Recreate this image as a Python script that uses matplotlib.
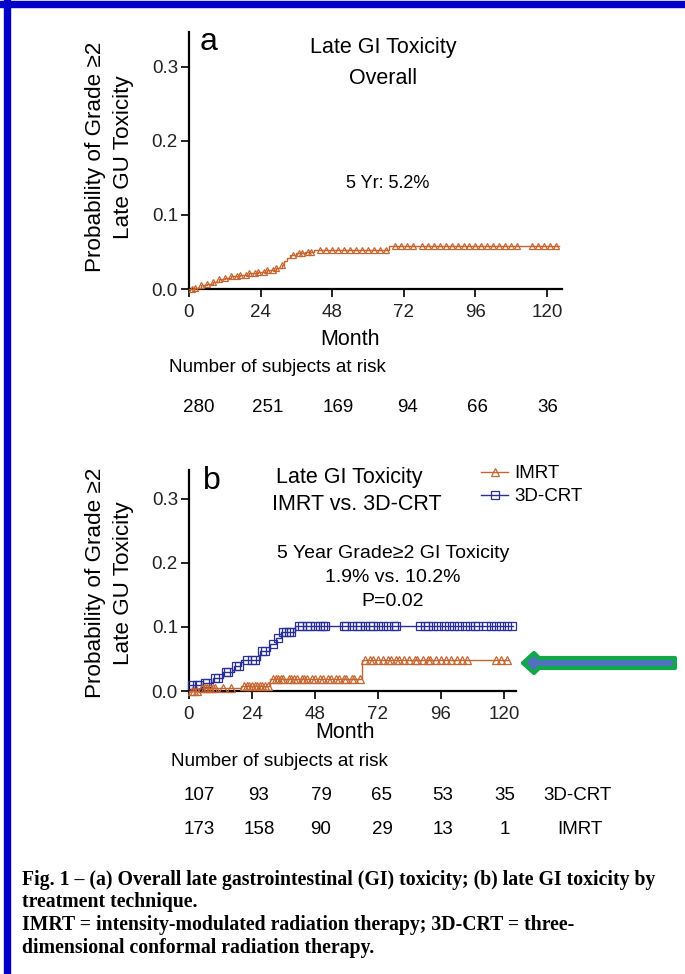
import numpy as np
import matplotlib
matplotlib.use("Agg")
import matplotlib.pyplot as plt
import matplotlib.transforms as mtransforms
from matplotlib.patches import Rectangle, Polygon
from matplotlib.lines import Line2D

plt.rcParams['font.family'] = ['Liberation Sans', 'DejaVu Sans']

W, H = 685, 974

# ---- panel a : overall late GI toxicity ----
a_event_t = [0, 2, 4, 6, 8, 10, 12, 14, 17, 20, 23, 26, 29, 31, 32, 33, 34, 36, 39, 42, 67]
a_event_p = [0.0, 0.002, 0.005, 0.007, 0.010, 0.013, 0.015, 0.017, 0.019, 0.021, 0.023,
             0.025, 0.028, 0.033, 0.038, 0.042, 0.046, 0.048, 0.050, 0.052, 0.058]
a_censor = [1, 2, 4, 6, 8, 10, 12, 14, 16, 17, 19, 20, 22, 23, 25, 26, 28, 29, 31, 35, 37,
            38, 40, 41, 44, 46, 48, 50, 52, 54, 56, 58, 60, 62, 64, 66, 69, 71, 73, 75, 78,
            80, 82, 84, 86, 88, 90, 92, 94, 96, 98, 100, 102, 104, 106, 108, 110, 115, 117,
            119, 121, 123]
a_end = 124
a_at_risk = [280, 251, 169, 94, 66, 36]

# ---- panel b : IMRT vs 3D-CRT ----
crt_event_t = [0, 5.5, 9.3, 13, 17, 20, 27, 31, 33, 35, 40.5]
crt_event_p = [0.009, 0.012, 0.020, 0.030, 0.039, 0.048, 0.062, 0.073, 0.083, 0.092, 0.102]
crt_censor = [1, 3, 4, 6, 7, 10, 11, 14, 15, 18, 19, 22, 24, 25, 28, 29, 32, 34, 36, 37, 38,
              39, 42, 43, 45, 46, 48, 50, 51, 52, 59, 60, 62, 64, 65, 67, 69, 70, 72, 74, 76,
              78, 79, 88, 90, 91, 93, 95, 97, 99, 101, 103, 105, 107, 109, 110, 113, 115, 117,
              119, 121, 123]
crt_end = 123.5

imrt_event_t = [0, 4, 20, 31, 66]
imrt_event_p = [0.0, 0.004, 0.008, 0.019, 0.048]
imrt_censor = [1, 2, 3, 5, 6, 7, 8, 9, 10, 13, 16, 21, 22, 23, 24, 25, 26, 27, 28, 29, 30,
               32, 33, 34, 35, 36, 38, 39, 40, 41, 43, 44, 45, 47, 48, 50, 51, 53, 54, 56, 57,
               59, 60, 62, 63, 65, 67, 69, 70, 72, 74, 76, 77, 79, 80, 82, 84, 86, 87, 89, 91,
               92, 94, 96, 98, 100, 102, 104, 106, 117, 119, 121]
imrt_end = 122

crt_at_risk = [107, 93, 79, 65, 53, 35]
imrt_at_risk = [173, 158, 90, 29, 13, 1]

x_ticks = [0, 24, 48, 72, 96, 120]
y_ticks = [0.0, 0.1, 0.2, 0.3]

ORANGE = '#C8652E'
BLUE = '#2A2E98'

# risk-table numbers sit a little right of their ticks (pixels)
risk_shift = [10, 7, 6, 4, 2, 1]


def fx(px):
    return px / W


def fy(py):
    return 1 - py / H


def step_value(times, probs, t):
    idx = np.searchsorted(times, t, side='right') - 1
    return np.array(probs)[idx]


def km_curve(ax, times, probs, censor, end, color, marker, ms):
    ts = list(times) + [end]
    ps = list(probs) + [probs[-1]]
    ax.step(ts, ps, where='post', color=color, lw=1.0, clip_on=False, zorder=3)
    cy = step_value(times, probs, np.array(censor))
    ax.plot(censor, cy, ls='none', marker=marker, ms=ms, mfc='none', mec=color,
            mew=0.9, clip_on=False, zorder=4)


def style_axes(ax, xmax, ymax):
    ax.set_xlim(0, xmax)
    ax.set_ylim(0, ymax)
    for s in ['top', 'right']:
        ax.spines[s].set_visible(False)
    for s in ['left', 'bottom']:
        ax.spines[s].set_linewidth(1.6)
    ax.set_xticks(x_ticks)
    ax.set_yticks(y_ticks)
    ax.set_yticklabels(['0.0', '0.1', '0.2', '0.3'])
    ax.tick_params(direction='out', length=6, width=1.4, labelsize=13.5, colors='#222222')
    ax.tick_params(axis='x', pad=5)
    ax.tick_params(axis='y', pad=2)


def risk_row(ax, counts, ypx):
    trans = mtransforms.blended_transform_factory(ax.transData, fig.transFigure)
    for t, n, dx in zip(x_ticks, counts, risk_shift):
        tr = trans + mtransforms.ScaledTranslation(dx / 100, 0, fig.dpi_scale_trans)
        ax.text(t, fy(ypx), str(n), transform=tr, ha='center', va='center', fontsize=13.5)


fig = plt.figure(figsize=(W / 100, H / 100), dpi=100)

# frame lines
fig.patches.append(Rectangle((0, fy(7)), 1, 6 / H, transform=fig.transFigure,
                             color='#0000C8', zorder=0))
fig.patches.append(Rectangle((fx(4), 0), 6 / W, 1, transform=fig.transFigure,
                             color='#0000C8', zorder=0))

# ---------- panel a ----------
ax_a = fig.add_axes([fx(189), fy(289), 373 / W, 257 / H])
style_axes(ax_a, 125, 0.347)
km_curve(ax_a, a_event_t, a_event_p, a_censor, a_end, ORANGE, '^', 5)
fig.text(fx(350), fy(339), 'Month', ha='center', va='center', fontsize=15.5)
risk_row(ax_a, a_at_risk, 408)

fig.text(fx(169), fy(367), 'Number of subjects at risk', ha='left', va='center', fontsize=13.6)
fig.text(fx(200), fy(42), 'a', ha='left', va='center', fontsize=23)
fig.text(fx(383), fy(48), 'Late GI Toxicity', ha='center', va='center', fontsize=15.5)
fig.text(fx(383), fy(79), 'Overall', ha='center', va='center', fontsize=15.5)
fig.text(fx(388), fy(183), '5 Yr: 5.2%', ha='center', va='center', fontsize=13)
fig.text(fx(95), fy(157), 'Probability of Grade \u22652', rotation=90, ha='center',
         va='center', fontsize=16.2)
fig.text(fx(123), fy(157), 'Late GU Toxicity', rotation=90, ha='center', va='center',
         fontsize=16.2)

# ---------- panel b ----------
ax_b = fig.add_axes([fx(189), fy(691), 327 / W, 221 / H])
style_axes(ax_b, 124.6, 0.345)
km_curve(ax_b, crt_event_t, crt_event_p, crt_censor, crt_end, BLUE, 's', 6)
km_curve(ax_b, imrt_event_t, imrt_event_p, imrt_censor, imrt_end, ORANGE, '^', 5.5)
fig.text(fx(345), fy(733), 'Month', ha='center', va='center', fontsize=15.5)
risk_row(ax_b, crt_at_risk, 795)
risk_row(ax_b, imrt_at_risk, 829)
fig.text(fx(543), fy(795), '3D-CRT', ha='left', va='center', fontsize=13.5)
fig.text(fx(557), fy(829), 'IMRT', ha='left', va='center', fontsize=13.5)

fig.text(fx(171), fy(762), 'Number of subjects at risk', ha='left', va='center', fontsize=13.6)
fig.text(fx(203), fy(481), 'b', ha='left', va='center', fontsize=23)
fig.text(fx(349), fy(477), 'Late GI Toxicity', ha='center', va='center', fontsize=15.5)
fig.text(fx(357), fy(505), 'IMRT vs. 3D-CRT', ha='center', va='center', fontsize=15.5)
fig.text(fx(393), fy(553), '5 Year Grade\u22652 GI Toxicity', ha='center', va='center',
         fontsize=14)
fig.text(fx(393), fy(578), '1.9% vs. 10.2%', ha='center', va='center', fontsize=14)
fig.text(fx(393), fy(601), 'P=0.02', ha='center', va='center', fontsize=14)
fig.text(fx(95), fy(583), 'Probability of Grade \u22652', rotation=90, ha='center',
         va='center', fontsize=16.2)
fig.text(fx(123), fy(583), 'Late GU Toxicity', rotation=90, ha='center', va='center',
         fontsize=16.2)

handles = [Line2D([], [], color=ORANGE, lw=1.0, marker='^', ms=6, mfc='none', mew=0.9),
           Line2D([], [], color=BLUE, lw=1.0, marker='s', ms=6, mfc='none', mew=0.9)]
fig.legend(handles, ['IMRT', '3D-CRT'], loc='upper left',
           bbox_to_anchor=(fx(472), fy(456)), frameon=False, fontsize=13.5,
           handlelength=1.4, handletextpad=0.35, labelspacing=0.3, borderpad=0)

# green arrow pointing at the IMRT curve
arrow_pts = [(523, 663), (534, 653), (539, 658), (675, 658), (675, 668), (539, 668),
             (534, 673)]
fig.patches.append(Polygon([(fx(x), fy(y)) for x, y in arrow_pts], closed=True,
                           transform=fig.transFigure, facecolor='#4F72BE',
                           edgecolor='#12A84A', lw=3.0, joinstyle='round'))

# caption
caption = [
    'Fig. 1 \u2013 (a) Overall late gastrointestinal (GI) toxicity; (b) late GI toxicity by',
    'treatment technique.',
    'IMRT = intensity-modulated radiation therapy; 3D-CRT = three-',
    'dimensional conformal radiation therapy.',
]
for i, line in enumerate(caption):
    fig.text(fx(22), fy(880 + 22.5 * i), line, ha='left', va='center', fontsize=14.2,
             fontweight='bold', family=['Liberation Serif', 'DejaVu Serif'])

fig.savefig('out.png', dpi=100)
